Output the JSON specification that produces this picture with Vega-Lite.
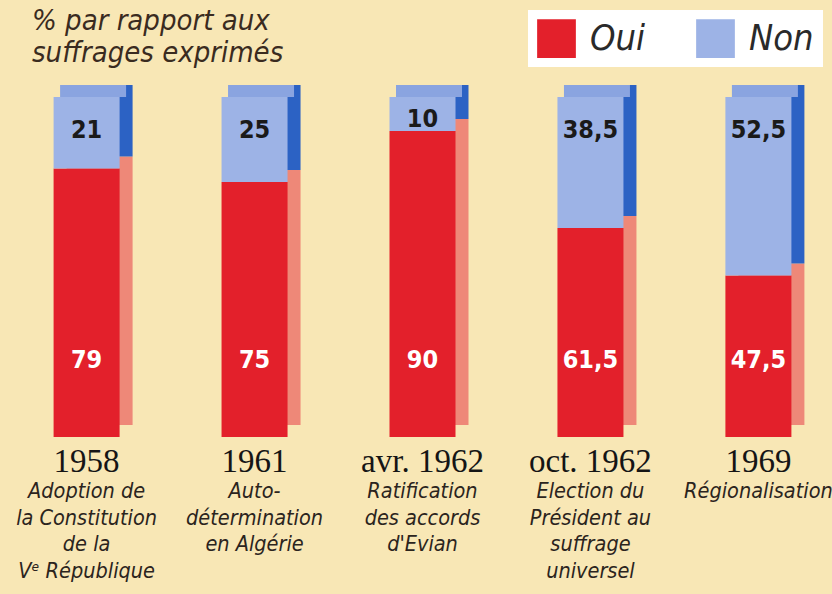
{
  "$schema": "https://vega.github.io/schema/vega-lite/v6.json",
  "autosize": {"type": "none"},
  "padding": {"left": 20, "top": 97, "right": 7, "bottom": 157},
  "width": 805,
  "height": 340,
  "background": "#F8E7B5",
  "title": {
    "text": ["% par rapport aux", "suffrages exprimés"],
    "anchor": "start",
    "frame": "group",
    "font": "Liberation Sans Narrow, DejaVu Sans Condensed, sans-serif",
    "fontStyle": "italic",
    "fontWeight": "normal",
    "fontSize": 29,
    "lineHeight": 32,
    "color": "#3a2b1f",
    "baseline": "bottom",
    "offset": -87,
    "dx": 12
  },
  "data": {
    "values": [
      {"year": "1958", "desc": "Adoption de\nla Constitution\nde la\nVᵉ République", "cat": "Oui", "value": 79},
      {"year": "1958", "desc": "Adoption de\nla Constitution\nde la\nVᵉ République", "cat": "Non", "value": 21},
      {"year": "1961", "desc": "Auto-\ndétermination\nen Algérie", "cat": "Oui", "value": 75},
      {"year": "1961", "desc": "Auto-\ndétermination\nen Algérie", "cat": "Non", "value": 25},
      {"year": "avr. 1962", "desc": "Ratification\ndes accords\nd'Evian", "cat": "Oui", "value": 90},
      {"year": "avr. 1962", "desc": "Ratification\ndes accords\nd'Evian", "cat": "Non", "value": 10},
      {"year": "oct. 1962", "desc": "Election du\nPrésident au\nsuffrage\nuniversel", "cat": "Oui", "value": 61.5},
      {"year": "oct. 1962", "desc": "Election du\nPrésident au\nsuffrage\nuniversel", "cat": "Non", "value": 38.5},
      {"year": "1969", "desc": "Régionalisation", "cat": "Oui", "value": 47.5},
      {"year": "1969", "desc": "Régionalisation", "cat": "Non", "value": 52.5}
    ]
  },
  "config": {
    "view": {"stroke": null},
    "scale": {"bandPaddingInner": 0.607, "bandPaddingOuter": 0.2},
    "legend": {
      "orient": "none",
      "legendX": 508,
      "legendY": -87,
      "direction": "horizontal",
      "fillColor": "#ffffff",
      "padding": 9,
      "title": null,
      "symbolType": "square",
      "symbolSize": 1500,
      "symbolStrokeWidth": 0,
      "symbolOpacity": 1,
      "labelFont": "Liberation Sans Narrow, DejaVu Sans Condensed, sans-serif",
      "labelFontStyle": "italic",
      "labelFontSize": 36,
      "labelColor": "#2a2a2a",
      "labelOffset": 14,
      "columnPadding": 50
    }
  },
  "encoding": {
    "x": {"field": "year", "type": "nominal", "sort": null, "axis": null}
  },
  "layer": [
    {
      "mark": {"type": "bar", "xOffset": 13, "yOffset": -12},
      "encoding": {
        "y": {"field": "value", "type": "quantitative", "stack": "zero", "scale": {"domain": [0, 100], "nice": false, "zero": true}, "axis": null},
        "detail": {"field": "cat"},
        "order": {"field": "cat", "sort": "descending"},
        "color": {"condition": {"test": "datum.cat == 'Oui'", "value": "#EE8878"}, "value": "#2C62C4"}
      }
    },
    {
      "transform": [{"filter": "datum.cat == 'Non'"}],
      "mark": {"type": "tick", "thickness": 12, "size": 66, "xOffset": 6.5, "yOffset": -6, "opacity": 1},
      "encoding": {
        "y": {"datum": 100, "type": "quantitative"},
        "color": {"value": "#8AA4E0"}
      }
    },
    {
      "mark": {"type": "bar"},
      "encoding": {
        "y": {"field": "value", "type": "quantitative", "stack": "zero"},
        "order": {"field": "cat", "sort": "descending"},
        "color": {"field": "cat", "type": "nominal", "scale": {"domain": ["Oui", "Non"], "range": ["#E3202B", "#9DB3E6"]}}
      }
    },
    {
      "transform": [
        {"calculate": "datum.cat == 'Oui' ? 22.6 : max(90.3, 100 - datum.value * 0.65)", "as": "ly"},
        {"calculate": "replace(toString(datum.value), '.', ',')", "as": "lbl"}
      ],
      "mark": {"type": "text", "font": "DejaVu Sans Condensed, Liberation Sans Narrow, sans-serif", "fontWeight": "bold", "fontSize": 25, "baseline": "middle", "align": "center"},
      "encoding": {
        "y": {"field": "ly", "type": "quantitative"},
        "text": {"field": "lbl"},
        "color": {"condition": {"test": "datum.cat == 'Oui'", "value": "#ffffff"}, "value": "#1a1a1a"}
      }
    },
    {
      "transform": [{"filter": "datum.cat == 'Oui'"}],
      "mark": {"type": "text", "font": "Liberation Serif, DejaVu Serif, serif", "fontSize": 33, "baseline": "middle", "align": "center", "color": "#151515"},
      "encoding": {
        "y": {"datum": -7.4, "type": "quantitative"},
        "text": {"field": "year"}
      }
    },
    {
      "transform": [{"filter": "datum.cat == 'Oui'"}],
      "mark": {"type": "text", "font": "Liberation Sans Narrow, DejaVu Sans Condensed, sans-serif", "fontStyle": "italic", "fontSize": 21.5, "baseline": "middle", "align": "center", "color": "#2b241d", "lineBreak": "\n", "lineHeight": 26.5},
      "encoding": {
        "y": {"datum": -16.2, "type": "quantitative"},
        "text": {"field": "desc"}
      }
    }
  ]
}
